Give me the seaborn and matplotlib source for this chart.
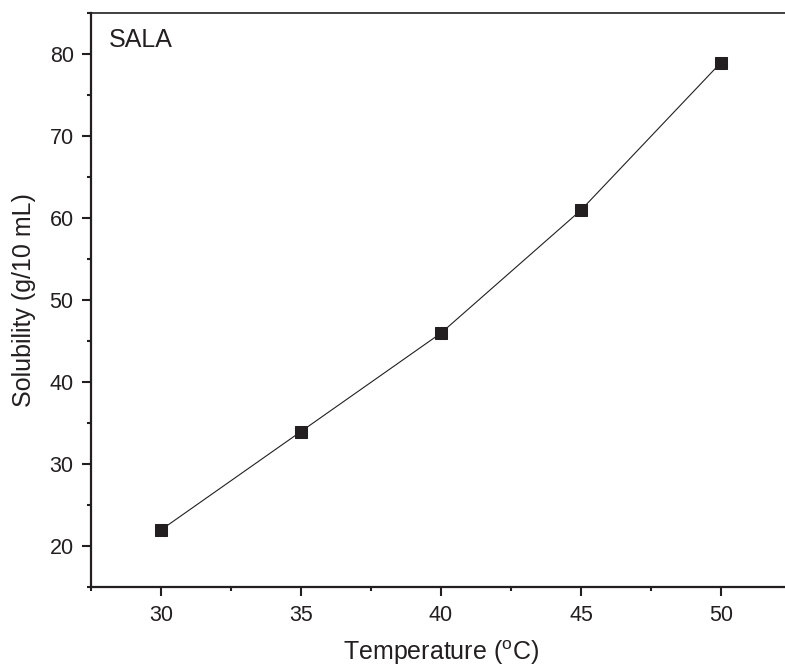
import matplotlib
matplotlib.use('Agg')
import matplotlib.pyplot as plt
import seaborn as sns
import pandas as pd
from matplotlib.ticker import MultipleLocator

# solubility of SALA vs temperature
temperature = [30, 35, 40, 45, 50]
solubility = [22, 34, 46, 61, 79]

df = pd.DataFrame({'temp': temperature, 'sol': solubility})

sns.set_style('ticks')
plt.rcParams['font.family'] = ['Liberation Sans', 'DejaVu Sans']
plt.rcParams['mathtext.default'] = 'regular'

fig = plt.figure(figsize=(7.85, 6.66), dpi=100)
ax = fig.add_axes([91 / 785, 78.7 / 666, 700 / 785, 574 / 666])

sns.lineplot(data=df, x='temp', y='sol', ax=ax, color='#231f20', linewidth=0.8,
             marker='s', markersize=8, markerfacecolor='#231f20',
             markeredgecolor='#231f20')

ax.set_xlim(27.5, 52.5)
ax.set_ylim(15, 85)
ax.xaxis.set_major_locator(MultipleLocator(5))
ax.xaxis.set_minor_locator(MultipleLocator(2.5))
ax.yaxis.set_major_locator(MultipleLocator(10))
ax.yaxis.set_minor_locator(MultipleLocator(5))

ax.spines['right'].set_visible(False)
for s in ['left', 'bottom']:
    ax.spines[s].set_linewidth(1.6)
    ax.spines[s].set_color('#231f20')
ax.spines['top'].set_linewidth(1.2)
ax.spines['top'].set_color('#231f20')

ax.tick_params(which='major', direction='out', length=6.5, width=1.5,
               labelsize=15.5, colors='#231f20', pad=6)
ax.tick_params(which='minor', direction='out', length=3, width=1.5, colors='#231f20')
ax.tick_params(top=False, right=False, which='both')

ax.set_xlabel('Temperature ($^o$C)', fontsize=18, color='#231f20', labelpad=9)
ax.set_ylabel('Solubility (g/10 mL)', fontsize=18, color='#231f20', labelpad=10)

ax.text(0.025, 0.975, 'SALA', transform=ax.transAxes, fontsize=18,
        color='#231f20', va='top', ha='left')

fig.savefig('out.png', dpi=100)
